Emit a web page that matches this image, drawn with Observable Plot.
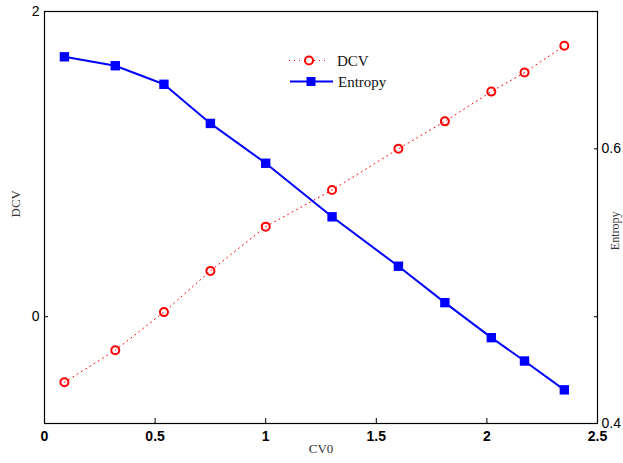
<!DOCTYPE html>
<html><head><meta charset="utf-8">
<script src="https://cdn.jsdelivr.net/npm/d3@7"></script>
<script src="https://cdn.jsdelivr.net/npm/@observablehq/plot@0.6"></script>
<style>
body{margin:0;background:#fff;}
#wrap{position:relative;width:623px;height:463px;overflow:hidden;background:#fff;}
#legend{position:absolute;left:0;top:0;pointer-events:none;}
</style></head><body><div id="wrap"></div>
<script>
// Data
const cv0 = [0.09, 0.32, 0.54, 0.75, 1.0, 1.3, 1.6, 1.81, 2.02, 2.17, 2.35];
const dcv = [-0.43, -0.22, 0.03, 0.30, 0.59, 0.83, 1.10, 1.28, 1.475, 1.60, 1.775];
const entropy = [0.667, 0.6605, 0.647, 0.6185, 0.5895, 0.5505, 0.5145, 0.488, 0.4625, 0.4455, 0.4245];
const xTicks = [0, 0.5, 1, 1.5, 2, 2.5];
const dcvTicks = [0, 2];
const entropyTicks = [0.4, 0.6];
const xDomain = [0, 2.5];
const dcvDomain = [-0.7, 2];
const entropyDomain = [0.4, 0.7];
const seriesNames = ["DCV", "Entropy"];
const labels = {x: "CV0", left: "DCV", right: "Entropy"};

// map entropy (right axis) into the left-axis coordinate space
const toLeft = d3.scaleLinear(entropyDomain, dcvDomain);
const rows = cv0.map((x, i) => ({x, dcv: dcv[i], ent: toLeft(entropy[i])}));

const serif = "'Liberation Serif', 'Times New Roman', serif";
const chart = Plot.plot({
  width: 623, height: 463,
  marginLeft: 44, marginRight: 26, marginTop: 11, marginBottom: 40,
  style: {fontFamily: "'Liberation Sans', Arial, sans-serif", fontSize: "14px", color: "#000", background: "#fff", overflow: "visible"},
  x: {domain: xDomain},
  y: {domain: dcvDomain},
  marks: [
    Plot.frame({stroke: "#000", strokeWidth: 1.2}),
    Plot.axisX({ticks: xTicks, tickSize: -5, tickPadding: 13, tickFormat: d => String(d), label: null, fontWeight: "bold", fontSize: 14}),
    Plot.axisY({anchor: "left", ticks: dcvTicks, tickSize: -4, tickPadding: 9, tickFormat: d => String(d), label: null}),
    Plot.axisY({anchor: "right", ticks: dcvTicks.filter(d => d !== 2), tickSize: -4, tickFormat: () => "", label: null}),
    Plot.axisY({anchor: "right", ticks: entropyTicks.map(toLeft), tickSize: -4, tickPadding: 8, tickFormat: d => d3.format(".1f")(toLeft.invert(d)), label: null}),
    Plot.line(rows, {x: "x", y: "dcv", stroke: "#ff0000", strokeWidth: 1, strokeDasharray: "1,4"}),
    Plot.dot(rows, {x: "x", y: "dcv", r: 4, stroke: "#ff0000", strokeWidth: 2, fill: "none"}),
    Plot.line(rows, {x: "x", y: "ent", stroke: "#0000ff", strokeWidth: 2}),
    Plot.dot(rows, {x: "x", y: "ent", symbol: "square", r: 5.3, fill: "#0000ff", stroke: "none"}),
    Plot.text([labels.x], {frameAnchor: "bottom", dy: 29, fontFamily: serif, fontSize: 13, fill: "#333", text: d => d}),
    Plot.text([labels.left], {frameAnchor: "left", dx: -29, rotate: -90, fontFamily: serif, fontSize: 13, fill: "#333", text: d => d}),
    Plot.text([labels.right], {frameAnchor: "right", dx: 18, dy: -6, rotate: -90, fontFamily: serif, fontSize: 12, fill: "#333", text: d => d})
  ]
});
const wrap = document.getElementById("wrap");
wrap.appendChild(chart);

// Legend overlay
const leg = d3.select(wrap).append("svg").attr("id", "legend").attr("width", 623).attr("height", 463);
const legRows = [
  {name: seriesNames[0], y: 60.5, color: "#ff0000", dash: "1,4", w: 1, x1: 289, x2: 329, mx: 309, sym: "circle", tx: 337},
  {name: seriesNames[1], y: 81.5, color: "#0000ff", dash: null, w: 2, x1: 290, x2: 333, mx: 311, sym: "square", tx: 338}
];
legRows.forEach(r => {
  leg.append("line").attr("x1", r.x1).attr("x2", r.x2).attr("y1", r.y).attr("y2", r.y)
    .attr("stroke", r.color).attr("stroke-width", r.w).attr("stroke-dasharray", r.dash);
  if (r.sym === "circle") leg.append("circle").attr("cx", r.mx).attr("cy", r.y).attr("r", 4).attr("fill", "#fff").attr("stroke", r.color).attr("stroke-width", 2);
  else leg.append("rect").attr("x", r.mx - 4.5).attr("y", r.y - 4.5).attr("width", 9).attr("height", 9).attr("fill", r.color);
  leg.append("text").attr("x", r.tx).attr("y", r.y).attr("dy", "0.35em").attr("font-family", serif).attr("font-size", 15).attr("fill", "#111").text(r.name);
});
</script></body></html>
